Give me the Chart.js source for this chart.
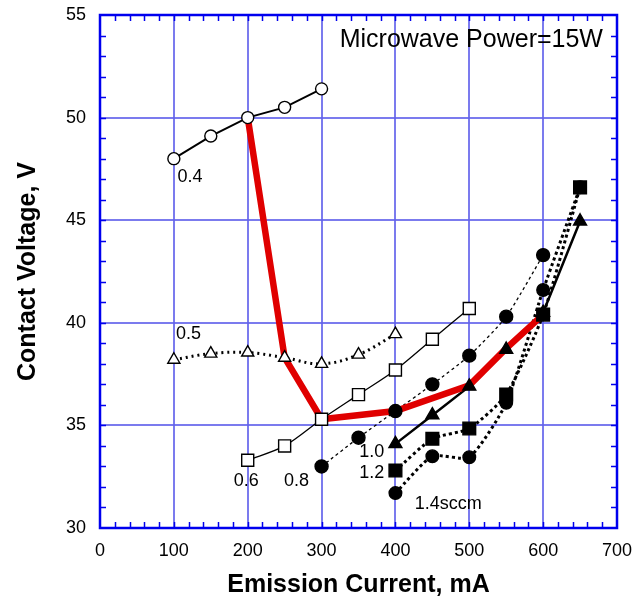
<!DOCTYPE html>
<html>
<head>
<meta charset="utf-8">
<script src="https://cdn.jsdelivr.net/npm/chart.js@4"></script>
<style>
  body { margin: 0; background: #fff; }
  #wrap { width: 637px; height: 604px; }
</style>
</head>
<body>
<div id="wrap"><canvas id="cv" width="637" height="604"></canvas></div>
<script>
// emission current (mA) and contact voltage (V) for each gas flow
const x04 = [100, 150, 200, 250, 300];
const v04 = [48.0, 49.1, 50.0, 50.5, 51.4];
const x05 = [100, 150, 200, 250, 300, 350, 400];
const v05 = [38.2, 38.5, 38.55, 38.3, 38.0, 38.45, 39.45];
const x06 = [200, 250, 300, 350, 400, 450, 500];
const v06 = [33.3, 34.0, 35.3, 36.5, 37.7, 39.2, 40.7];
const x08 = [300, 350, 400, 450, 500, 550, 600];
const v08 = [33.0, 34.4, 35.7, 37.0, 38.4, 40.3, 43.3];
const x10 = [400, 450, 500, 550, 600, 650];
const v10 = [34.1, 35.5, 36.9, 38.7, 40.5, 44.95];
const x12 = [400, 450, 500, 550, 600, 650];
const v12 = [32.8, 34.35, 34.85, 36.5, 40.4, 46.6];
const x14 = [400, 450, 500, 550, 600, 650];
const v14 = [31.7, 33.5, 33.45, 36.1, 41.6, 46.6];
// red trace through the transition points
const xRed = [200, 250, 300, 400, 500, 550, 600];
const vRed = [50.0, 38.3, 35.3, 35.7, 36.95, 38.75, 40.4];

// text labels: [text, x, y, align]
const notes = [
    ['0.4', 105, 47.1, 'left'],
    ['0.5', 103, 39.45, 'left'],
    ['0.6', 181, 32.3, 'left'],
    ['0.8', 249, 32.3, 'left'],
    ['1.0', 351, 33.7, 'left'],
    ['1.2', 351, 32.7, 'left'],
    ['1.4sccm', 426, 31.15, 'left']
];
const powerText = 'Microwave Power=15W';

const pts = (xs, ys) => xs.map((x, i) => ({ x: x, y: ys[i] }));

const series = [
    { xs: x12, ys: v12, style: 'rect', r: 9, fill: '#000', width: 3, dash: [3, 3], tension: 0.2 },
    { xs: x14, ys: v14, style: 'circle', r: 6.3, fill: '#000', width: 3, dash: [3, 3], tension: 0.2 },
    { xs: x10, ys: v10, style: 'triangle', r: 7.5, fill: '#000', width: 2.5, dash: [], tension: 0 },
    { xs: x08, ys: v08, style: 'circle', r: 6.5, fill: '#000', width: 1.3, dash: [3, 3], tension: 0.2 },
    { xs: x06, ys: v06, style: 'rect', r: 8.5, fill: '#fff', width: 1.3, dash: [], tension: 0.3 },
    { xs: x05, ys: v05, style: 'triangle', r: 7, fill: '#fff', width: 3, dash: [2, 4], tension: 0.4 },
    { xs: x04, ys: v04, style: 'circle', r: 6, fill: '#fff', width: 2, dash: [], tension: 0 }
];

const datasets = [];
// markers sit above every line
series.forEach(s => {
    datasets.push({
        data: pts(s.xs, s.ys),
        showLine: false,
        pointStyle: s.style,
        pointRadius: s.r,
        pointBackgroundColor: s.fill,
        pointBorderColor: '#000',
        pointBorderWidth: 1.4,
        order: 1
    });
});
datasets.push({
    data: pts(xRed, vRed),
    showLine: true,
    borderColor: '#e00000',
    borderWidth: 6.5,
    borderJoinStyle: 'miter',
    pointRadius: 0,
    tension: 0,
    order: 2
});
series.forEach(s => {
    datasets.push({
        data: pts(s.xs, s.ys),
        showLine: true,
        borderColor: '#000',
        borderWidth: s.width,
        borderDash: s.dash,
        tension: s.tension,
        pointRadius: 0,
        order: 3
    });
});

// blue frame with inward ticks, plus the text labels
const framePlugin = {
    id: 'frame',
    afterDatasetsDraw(chart) {
        const ctx = chart.ctx;
        const xs = chart.scales.x, ys = chart.scales.y;
        const a = chart.chartArea;
        ctx.save();
        ctx.fillStyle = '#000';
        ctx.textBaseline = 'middle';
        ctx.font = '18px "Liberation Sans", Arial, sans-serif';
        notes.forEach(n => {
            ctx.textAlign = n[3];
            ctx.fillText(n[0], xs.getPixelForValue(n[1]), ys.getPixelForValue(n[2]));
        });
        ctx.font = '25px "Liberation Sans", Arial, sans-serif';
        ctx.textAlign = 'right';
        ctx.fillText(powerText, xs.getPixelForValue(681), ys.getPixelForValue(53.8));

        ctx.strokeStyle = '#0000ee';
        ctx.lineWidth = 1.5;
        const tl = 6;
        ctx.beginPath();
        for (let v = 20; v < 700; v += 20) {
            const px = Math.round(xs.getPixelForValue(v)) + 0.5;
            ctx.moveTo(px, a.bottom); ctx.lineTo(px, a.bottom - tl);
            ctx.moveTo(px, a.top); ctx.lineTo(px, a.top + tl);
        }
        for (let v = 31; v < 55; v += 1) {
            const py = Math.round(ys.getPixelForValue(v)) + 0.5;
            ctx.moveTo(a.left, py); ctx.lineTo(a.left + tl, py);
            ctx.moveTo(a.right, py); ctx.lineTo(a.right - tl, py);
        }
        ctx.stroke();
        ctx.lineWidth = 2.5;
        ctx.strokeRect(a.left, a.top, a.right - a.left, a.bottom - a.top);
        ctx.restore();
    }
};

const tickFont = { family: '"Liberation Sans", Arial, sans-serif', size: 18 };
const titleFont = { family: '"Liberation Sans", Arial, sans-serif', size: 25, weight: 'bold' };
const gridStyle = { color: 'rgba(100, 100, 235, 0.85)', lineWidth: 2, drawTicks: false };

new Chart(document.getElementById('cv'), {
    type: 'scatter',
    data: { datasets: datasets },
    plugins: [framePlugin],
    options: {
        responsive: false,
        animation: false,
        layout: { padding: { top: 15, right: 20, left: 0, bottom: 0 } },
        plugins: { legend: { display: false }, tooltip: { enabled: false } },
        scales: {
            x: {
                type: 'linear', min: 0, max: 700,
                border: { display: false },
                grid: gridStyle,
                ticks: { stepSize: 100, color: '#000', font: tickFont, padding: 12, maxRotation: 0 },
                title: { display: true, text: 'Emission Current, mA', color: '#000', font: titleFont, padding: { top: 0, bottom: 4 } },
                afterFit: s => { s.height = 76; s.paddingLeft = 0; s.paddingRight = 0; }
            },
            y: {
                min: 30, max: 55,
                border: { display: false },
                grid: gridStyle,
                ticks: { stepSize: 5, color: '#000', font: tickFont, padding: 14 },
                title: { display: true, text: 'Contact Voltage, V', color: '#000', font: titleFont, padding: { top: 13, bottom: 0 } },
                afterFit: s => { s.width = 100; s.paddingTop = 0; s.paddingBottom = 0; }
            }
        }
    }
});
</script>
</body>
</html>
